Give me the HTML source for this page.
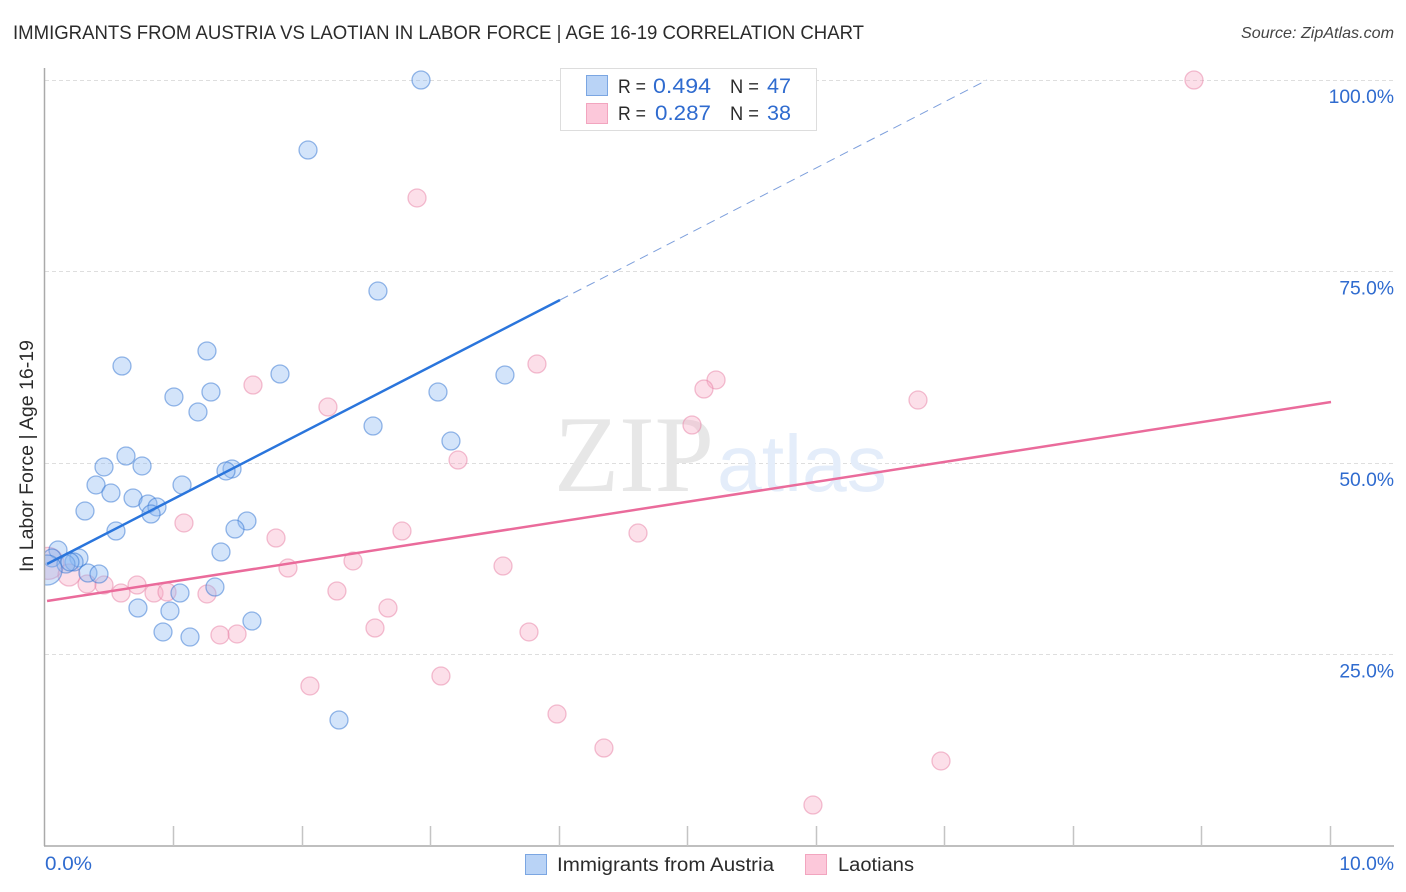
<!DOCTYPE html>
<html lang="en">
<head>
<meta charset="utf-8">
<title>Immigrants from Austria vs Laotian in Labor Force | Age 16-19 Correlation Chart</title>
<style>
  html, body { margin: 0; padding: 0; background: #fff; }
  svg { display: block; font-family: "Liberation Sans", sans-serif; }
</style>
</head>
<body>
<svg id="chart" xmlns="http://www.w3.org/2000/svg" width="1406" height="892" viewBox="0 0 1406 892">
  <rect x="0" y="0" width="1406" height="892" fill="#ffffff"/>
  <text x="13" y="39" font-size="19" fill="#2b2b2b" textLength="851" lengthAdjust="spacingAndGlyphs">IMMIGRANTS FROM AUSTRIA VS LAOTIAN IN LABOR FORCE | AGE 16-19 CORRELATION CHART</text>
  <text x="1241" y="38" font-size="16" font-style="italic" fill="#444" textLength="153" lengthAdjust="spacingAndGlyphs">Source: ZipAtlas.com</text>
  <g id="grid"></g>
  <g>
    <text x="554" y="491" font-family="'Liberation Serif', serif" font-size="109" fill="#e7e7e7" textLength="160" lengthAdjust="spacingAndGlyphs">ZIP</text>
    <text x="717" y="491" font-size="80" fill="#e4edfa" textLength="170" lengthAdjust="spacingAndGlyphs">atlas</text>
  </g>
  <clipPath id="plot-clip"><rect x="45" y="60" width="1349" height="786"/></clipPath>
  <g id="marks-pink" clip-path="url(#plot-clip)"></g>
  <g id="marks-blue" clip-path="url(#plot-clip)"></g>
  <g id="lines"></g>
  <g id="axes"></g>
  <text transform="translate(33,456) rotate(-90)" font-size="19" fill="#2b2b2b" text-anchor="middle" textLength="232" lengthAdjust="spacingAndGlyphs">In Labor Force | Age 16-19</text>

  <g>
    <rect x="560.5" y="68.5" width="256" height="62" fill="#ffffff" stroke="#dddddd" stroke-width="1"/>
    <rect x="586.5" y="75.5" width="21" height="20" fill="#b9d3f6" stroke="#7ba6e2" stroke-width="1"/>
    <rect x="586.5" y="103.5" width="21" height="20" fill="#fcc8da" stroke="#f2a5bf" stroke-width="1"/>
    <text x="618" y="93" font-size="19" fill="#2b2b2b" textLength="28" lengthAdjust="spacingAndGlyphs">R =</text>
    <text x="653" y="93" font-size="21" fill="#2f6bcf" textLength="58" lengthAdjust="spacingAndGlyphs">0.494</text>
    <text x="730" y="93" font-size="19" fill="#2b2b2b" textLength="29" lengthAdjust="spacingAndGlyphs">N =</text>
    <text x="767" y="93" font-size="21" fill="#2f6bcf" textLength="24" lengthAdjust="spacingAndGlyphs">47</text>
    <text x="618" y="120" font-size="19" fill="#2b2b2b" textLength="28" lengthAdjust="spacingAndGlyphs">R =</text>
    <text x="655" y="120" font-size="21" fill="#2f6bcf" textLength="56" lengthAdjust="spacingAndGlyphs">0.287</text>
    <text x="730" y="120" font-size="19" fill="#2b2b2b" textLength="29" lengthAdjust="spacingAndGlyphs">N =</text>
    <text x="767" y="120" font-size="21" fill="#2f6bcf" textLength="24" lengthAdjust="spacingAndGlyphs">38</text>
  </g>

  <g>
    <rect x="525.5" y="854.5" width="21" height="20" fill="#b9d3f6" stroke="#7ba6e2" stroke-width="1"/>
    <text x="557" y="871" font-size="19" fill="#2b2b2b" textLength="217" lengthAdjust="spacingAndGlyphs">Immigrants from Austria</text>
    <rect x="805.5" y="854.5" width="21" height="20" fill="#fcc8da" stroke="#f2a5bf" stroke-width="1"/>
    <text x="838" y="871" font-size="19" fill="#2b2b2b" textLength="76" lengthAdjust="spacingAndGlyphs">Laotians</text>
  </g>
</svg>

<script>
const xTicks = [0, 1, 2, 3, 4, 5, 6, 7, 8, 9, 10];
const xTickLabels = ["0.0%", "10.0%"];
const yTicks = [25, 50, 75, 100];
const yTickLabels = ["25.0%", "50.0%", "75.0%", "100.0%"];

const austriaX = [2.925, 2.046, 2.590, 1.260, 0.599, 1.828, 3.578, 1.003, 1.291, 3.057, 1.190, 2.552, 3.158, 0.630, 0.755, 0.459, 1.455, 1.408, 0.397, 1.066, 0.513, 0.685, 0.801, 0.871, 0.825, 0.311, 1.571, 1.478, 0.552, 1.369, 0.101, 0.054, 0.264, 0.226, 0.163, 0.194, 0.334, 0.420, 1.322, 1.050, 0.723, 0.972, 1.610, 0.918, 1.128, 2.287];
const austriaY = [100, 90.86, 72.45, 64.62, 62.66, 61.62, 61.49, 58.62, 59.27, 59.27, 56.66, 54.83, 52.87, 50.91, 49.61, 49.48, 49.22, 48.96, 47.13, 47.13, 46.08, 45.43, 44.65, 44.26, 43.34, 43.73, 42.43, 41.38, 41.12, 38.38, 38.64, 37.60, 37.60, 37.08, 36.81, 37.08, 35.64, 35.51, 33.81, 33.03, 31.07, 30.68, 29.37, 27.94, 27.28, 16.45];
const austriaClusterX = [0.016];
const austriaClusterY = [36.03];

const laotiansX = [8.938, 2.894, 3.827, 1.618, 2.201, 5.220, 5.126, 6.791, 5.033, 3.213, 1.081, 2.777, 4.613, 1.797, 2.396, 1.890, 3.563, 0.327, 0.459, 0.716, 0.591, 0.848, 0.949, 1.260, 2.271, 2.668, 2.567, 3.765, 1.494, 1.361, 2.061, 3.080, 3.983, 4.348, 6.970, 5.974];
const laotiansY = [100, 84.60, 62.92, 60.18, 57.31, 60.84, 59.66, 58.22, 54.96, 50.39, 42.17, 41.12, 40.86, 40.21, 37.21, 36.29, 36.55, 34.20, 34.07, 34.07, 33.03, 33.03, 33.16, 32.90, 33.29, 31.07, 28.46, 27.94, 27.68, 27.55, 20.89, 22.19, 17.23, 12.79, 11.10, 5.35];
const laotiansClusterX = [0.023, 0.187];
const laotiansClusterY = [36.90, 35.38];

const austriaTrendX = [0.016, 4.006];
const austriaTrendY = [36.81, 71.28];
const austriaExtensionX = [4.006, 7.328];
const austriaExtensionY = [71.28, 100];
const laotiansTrendX = [0.016, 10.004];
const laotiansTrendY = [31.98, 57.96];

const SVG_NS = "http://www.w3.org/2000/svg";
function xScale(v) { return 45 + v * 128.55; }
function yScale(v) { return 846 - v * 7.66; }
function make(tag, attrs, parent) {
  const el = document.createElementNS(SVG_NS, tag);
  for (const k in attrs) el.setAttribute(k, attrs[k]);
  parent.appendChild(el);
  return el;
}

const gridGroup = document.getElementById("grid");
const axesGroup = document.getElementById("axes");
const linesGroup = document.getElementById("lines");
const blueGroup = document.getElementById("marks-blue");
const pinkGroup = document.getElementById("marks-pink");

yTicks.forEach(function (t, i) {
  const gy = Math.floor(yScale(t)) + 0.5;
  const grid = make("line", { x1: 45, x2: 1394, y1: gy, y2: gy, stroke: "#dedede", "stroke-width": 1, "stroke-dasharray": "4 3" }, gridGroup);
  
  
  const label = make("text", { x: 1394, y: yScale(t) + 23, "font-size": 19.3, fill: "#2f6bcf", "text-anchor": "end" }, axesGroup);
  label.textContent = yTickLabels[i];
  
  
});

const yAxis = make("line", { x1: 44.5, x2: 44.5, y1: 68, y2: 846, stroke: "#aaaaaa", "stroke-width": 1.5 }, axesGroup);


const xAxis = make("line", { x1: 44, x2: 1394, y1: 846, y2: 846, stroke: "#aaaaaa", "stroke-width": 1.5 }, axesGroup);



xTicks.forEach(function (t) {
  if (t === 0) return;
  const tx = Math.floor(xScale(t)) + 0.5;
  const tick = make("line", { x1: tx, x2: tx, y1: 826, y2: 846, stroke: "#c4c4c4", "stroke-width": 1.5 }, axesGroup);
  
  
});

const xLabelStart = make("text", { x: 45, y: 870, "font-size": 19.3, fill: "#2f6bcf", textLength: 47, lengthAdjust: "spacingAndGlyphs" }, axesGroup);
xLabelStart.textContent = xTickLabels[0];


const xLabelEnd = make("text", { x: 1394, y: 870, "font-size": 19.3, fill: "#2f6bcf", "text-anchor": "end" }, axesGroup);
xLabelEnd.textContent = xTickLabels[1];



function drawPinkPoint(x, y, r) {
  const c = make("circle", { cx: xScale(x), cy: yScale(y), r: r, fill: "rgba(247,170,197,0.38)", stroke: "rgba(232,130,165,0.50)", "stroke-width": 1.3 }, pinkGroup);
  
  
}
function drawBluePoint(x, y, r) {
  const c = make("circle", { cx: xScale(x), cy: yScale(y), r: r, fill: "rgba(140,185,243,0.38)", stroke: "rgba(50,115,210,0.50)", "stroke-width": 1.3 }, blueGroup);
  
  
}

laotiansX.forEach(function (x, i) { drawPinkPoint(x, laotiansY[i], 9); });
drawPinkPoint(laotiansClusterX[0], laotiansClusterY[0], 16);
drawPinkPoint(laotiansClusterX[1], laotiansClusterY[1], 11);
austriaX.forEach(function (x, i) { drawBluePoint(x, austriaY[i], 9); });
drawBluePoint(austriaClusterX[0], austriaClusterY[0], 15);

const blueExtension = make("line", { x1: xScale(austriaExtensionX[0]), y1: yScale(austriaExtensionY[0]), x2: xScale(austriaExtensionX[1]), y2: yScale(austriaExtensionY[1]), stroke: "#7d9fdc", "stroke-width": 1, "stroke-dasharray": "9 6" }, linesGroup);


const blueTrend = make("line", { x1: xScale(austriaTrendX[0]), y1: yScale(austriaTrendY[0]), x2: xScale(austriaTrendX[1]), y2: yScale(austriaTrendY[1]), stroke: "#2a75dc", "stroke-width": 2.5 }, linesGroup);


const pinkTrend = make("line", { x1: xScale(laotiansTrendX[0]), y1: yScale(laotiansTrendY[0]), x2: xScale(laotiansTrendX[1]), y2: yScale(laotiansTrendY[1]), stroke: "#ea6b9b", "stroke-width": 2.5 }, linesGroup);


</script>
</body>
</html>
